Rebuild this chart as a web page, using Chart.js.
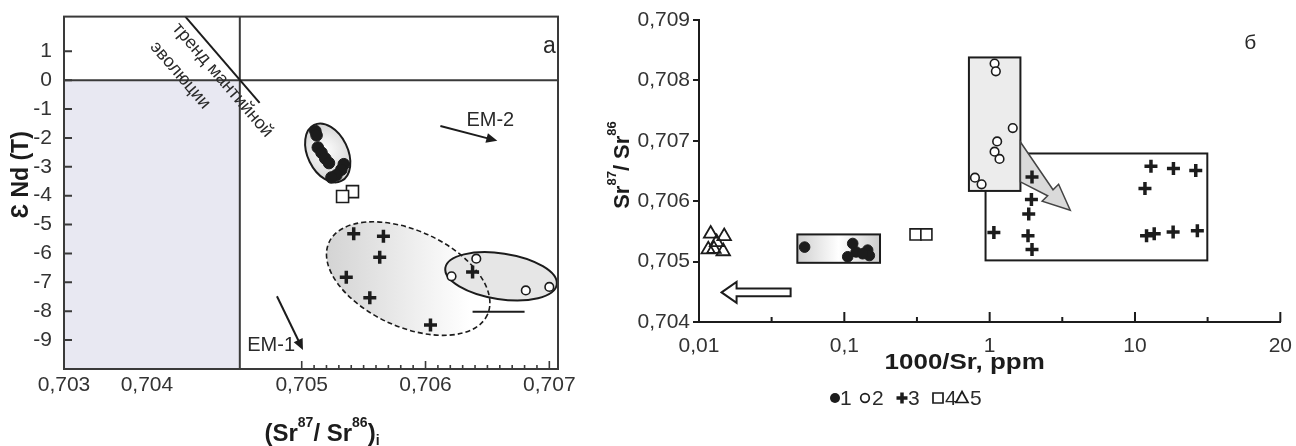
<!DOCTYPE html>
<html>
<head>
<meta charset="utf-8">
<script src="https://cdn.jsdelivr.net/npm/chart.js@4.4.1/dist/chart.umd.min.js"></script>
<style>
  html, body { margin: 0; padding: 0; background: #fff; overflow: hidden; }
  #wrapA { position: absolute; left: 0; top: 0; width: 600px; height: 446px; }
  #wrapB { position: absolute; left: 600px; top: 0; width: 696px; height: 446px; }
</style>
</head>
<body>
<div id="wrapA"><canvas id="chartA" width="600" height="446"></canvas></div>
<div id="wrapB"><canvas id="chartB" width="696" height="446"></canvas></div>
<script>
// ---- panel a: eNd(T) vs (87Sr/86Sr)i ----
const aDotX    = [0.70511, 0.70512, 0.70513, 0.70516, 0.70519, 0.70522, 0.70534, 0.70532, 0.70528, 0.70524];
const aDotY    = [-1.76, -1.91, -2.33, -2.51, -2.71, -2.87, -2.91, -3.10, -3.29, -3.37];
const aOpenX   = [0.70641, 0.70621, 0.70681, 0.70700];
const aOpenY   = [-6.18, -6.79, -7.28, -7.16];
const aCrossX  = [0.70542, 0.70566, 0.70563, 0.70536, 0.70555, 0.70604, 0.70638];
const aCrossY  = [-5.32, -5.40, -6.13, -6.82, -7.53, -8.48, -6.64];
const aSquareX = [0.70541, 0.70533];
const aSquareY = [-3.86, -4.03];

const aXTicks  = [0.70308, 0.70375, 0.705, 0.706, 0.707];
const aXLabels = ['0,703', '0,704', '0,705', '0,706', '0,707'];
const aYTicks  = [-9, -8, -7, -6, -5, -4, -3, -2, -1, 0, 1];

const bulkEarthSr = 0.7045;
const trendLine   = [[0.70406, 2.2], [0.70466, -0.79]];
const em1Arrow    = [[0.70480, -7.48], [0.70501, -9.34]];
const em2Arrow    = [[0.70612, -1.59], [0.70658, -2.10]];
const tieLine     = [[0.70638, -8.02], [0.70680, -8.02]];
// ellipse: centre x, centre y, end of long axis x, y, short/long ratio
const ellDots  = [0.70521, -2.52, 0.70532, -3.49, 0.645];
const ellCross = [0.70586, -6.87, 0.70650, -8.12, 0.553];
const ellOpen  = [0.70661, -6.79, 0.70706, -7.08, 0.406];

// ---- panel б: 87Sr/86Sr vs 1000/Sr ----
const bDotX    = [0.0533, 0.1142, 0.1205, 0.1055, 0.1447, 0.1486, 0.1337];
const bDotY    = [0.70524, 0.70530, 0.70516, 0.70508, 0.70519, 0.70510, 0.70513];
const bOpenX   = [1.081, 1.103, 1.442, 1.126, 1.081, 1.169, 0.792, 0.880];
const bOpenY   = [0.70828, 0.70815, 0.70721, 0.70699, 0.70682, 0.70670, 0.70639, 0.70628];
const bCrossX  = [1.956, 1.938, 1.857, 1.069, 1.836, 1.956, 12.88, 18.39, 26.19, 11.71, 12.01, 13.56, 18.30, 26.86];
const bCrossY  = [0.70640, 0.70603, 0.70579, 0.70548, 0.70543, 0.70520, 0.70658, 0.70654, 0.70651, 0.70621, 0.70543, 0.70546, 0.70549, 0.70551];
const bSquareX = [0.309, 0.367];
const bSquareY = [0.70545, 0.70545];
const bTriX    = [0.01203, 0.01491, 0.01267, 0.01468, 0.01158, 0.01322];
const bTriY    = [0.70546, 0.70542, 0.70521, 0.70517, 0.70520, 0.70532];

const bXTicks  = [0.01, 0.1, 1, 10, 100];
const bXLabels = ['0,01', '0,1', '1', '10', '20'];
const bXMinor  = [0.0316, 0.316, 3.16, 31.6];
const bYTicks  = [0.704, 0.705, 0.706, 0.707, 0.708, 0.709];
const bYLabels = ['0,704', '0,705', '0,706', '0,707', '0,708', '0,709'];

// boxes: x from, x to, y from, y to
const boxDots  = [0.0475, 0.176, 0.70498, 0.70545];
const boxOpen  = [0.720, 1.628, 0.70617, 0.70838];
const boxCross = [0.937, 31.45, 0.70502, 0.70679];
const grayArrow = [[1.628, 0.70698], [2.729, 0.70619], [2.981, 0.70628], [3.585, 0.70585],
                   [2.297, 0.70600], [2.506, 0.70609], [1.628, 0.70632]];
const backArrowX = [0.0427, 0.0143];
const backArrowY = 0.70449;

const legendLabels = ['1', '2', '3', '4', '5'];

const FAMILY = '"Liberation Sans", Arial, Helvetica, sans-serif';
const INK = '#1c1c1c';
Chart.defaults.font.family = FAMILY;
Chart.defaults.color = '#2a2a2a';

function pts(xs, ys) { return xs.map((v, i) => ({ x: v, y: ys[i] })); }

function drawRich(ctx, parts, cx, baseY, size) {
  const fontFor = k => 'bold ' + (k === 0 ? size : Math.round(size * 0.58)) + 'px ' + FAMILY;
  let w = 0;
  parts.forEach(([t, k]) => { ctx.font = fontFor(k); w += ctx.measureText(t).width; });
  let xx = cx - w / 2;
  ctx.textAlign = 'left';
  ctx.textBaseline = 'alphabetic';
  parts.forEach(([t, k]) => {
    ctx.font = fontFor(k);
    const dy = k === 1 ? -size * 0.6 : (k === -1 ? size * 0.17 : 0);
    ctx.fillText(t, xx, baseY + dy);
    xx += ctx.measureText(t).width;
  });
}

function arrowLine(ctx, x1, y1, x2, y2, head) {
  const ang = Math.atan2(y2 - y1, x2 - x1);
  ctx.beginPath();
  ctx.moveTo(x1, y1);
  ctx.lineTo(x2 - Math.cos(ang) * head * 0.8, y2 - Math.sin(ang) * head * 0.8);
  ctx.stroke();
  ctx.beginPath();
  ctx.moveTo(x2, y2);
  ctx.lineTo(x2 - head * Math.cos(ang) + head * 0.45 * Math.sin(ang), y2 - head * Math.sin(ang) - head * 0.45 * Math.cos(ang));
  ctx.lineTo(x2 - head * Math.cos(ang) - head * 0.45 * Math.sin(ang), y2 - head * Math.sin(ang) + head * 0.45 * Math.cos(ang));
  ctx.closePath();
  ctx.fill();
}

function ellipsePath(ctx, chart, e) {
  const { x, y } = chart.scales;
  const cx = x.getPixelForValue(e[0]), cy = y.getPixelForValue(e[1]);
  const ax = x.getPixelForValue(e[2]), ay = y.getPixelForValue(e[3]);
  const a = Math.hypot(ax - cx, ay - cy);
  ctx.beginPath();
  ctx.ellipse(cx, cy, a, a * e[4], Math.atan2(ay - cy, ax - cx), 0, Math.PI * 2);
  return { cx, cy, a };
}

const panelA = {
  id: 'panelA',
  beforeDatasetsDraw(chart) {
    const { ctx, chartArea: ca, scales: { x, y } } = chart;
    ctx.save();
    const xb = x.getPixelForValue(bulkEarthSr), y0 = y.getPixelForValue(0);
    ctx.fillStyle = '#e8e8f2';
    ctx.fillRect(ca.left, y0, xb - ca.left, ca.bottom - y0);

    ctx.strokeStyle = '#3a3a3a';
    ctx.lineWidth = 2;
    ctx.beginPath();
    ctx.moveTo(ca.left, y0); ctx.lineTo(ca.right, y0);
    ctx.moveTo(xb, ca.top); ctx.lineTo(xb, ca.bottom);
    ctx.stroke();

    // fields
    let g = ellipsePath(ctx, chart, ellCross);
    let grad = ctx.createLinearGradient(g.cx - g.a, 0, g.cx + g.a * 0.7, 0);
    grad.addColorStop(0, '#d2d2d2'); grad.addColorStop(1, '#ffffff');
    ctx.fillStyle = grad; ctx.fill();

    ellipsePath(ctx, chart, ellOpen);
    ctx.fillStyle = '#e6e6e6'; ctx.fill();

    g = ellipsePath(ctx, chart, ellDots);
    grad = ctx.createRadialGradient(g.cx - 4, g.cy - 4, 0, g.cx, g.cy, g.a);
    grad.addColorStop(0, '#ffffff'); grad.addColorStop(1, '#d0d0d0');
    ctx.fillStyle = grad; ctx.fill();

    ctx.strokeStyle = INK;
    ctx.lineWidth = 1.6;
    ctx.setLineDash([5, 3]);
    ellipsePath(ctx, chart, ellCross); ctx.stroke();
    ctx.setLineDash([]);
    ctx.lineWidth = 2;
    ellipsePath(ctx, chart, ellOpen); ctx.stroke();
    ellipsePath(ctx, chart, ellDots); ctx.stroke();
    ctx.restore();
  },
  afterDatasetsDraw(chart) {
    const { ctx, chartArea: ca, scales: { x, y } } = chart;
    const P = p => [x.getPixelForValue(p[0]), y.getPixelForValue(p[1])];
    ctx.save();
    ctx.strokeStyle = INK; ctx.fillStyle = INK; ctx.lineWidth = 2;

    // mantle evolution trend
    const t1 = P(trendLine[0]), t2 = P(trendLine[1]);
    ctx.beginPath(); ctx.moveTo(t1[0], t1[1]); ctx.lineTo(t2[0], t2[1]); ctx.stroke();
    const ang = Math.atan2(t2[1] - t1[1], t2[0] - t1[0]);
    ctx.font = '18px ' + FAMILY;
    ctx.textAlign = 'center'; ctx.textBaseline = 'middle';
    ctx.fillStyle = '#2a2a2a';
    [['тренд мантийной', 0.704361, 0.0], ['эволюции', 0.704019, 0.17]].forEach(([txt, vx, vy]) => {
      ctx.save();
      ctx.translate(x.getPixelForValue(vx), y.getPixelForValue(vy));
      ctx.rotate(ang);
      ctx.fillText(txt, 0, 0);
      ctx.restore();
    });

    // EM arrows
    ctx.fillStyle = INK;
    ctx.lineWidth = 2;
    let a1 = P(em1Arrow[0]), a2 = P(em1Arrow[1]);
    arrowLine(ctx, a1[0], a1[1], a2[0], a2[1], 11);
    a1 = P(em2Arrow[0]); a2 = P(em2Arrow[1]);
    arrowLine(ctx, a1[0], a1[1], a2[0], a2[1], 11);
    ctx.font = '20px ' + FAMILY;
    ctx.textAlign = 'left'; ctx.textBaseline = 'middle';
    ctx.fillStyle = '#2a2a2a';
    ctx.fillText('EM-1', x.getPixelForValue(0.70456), y.getPixelForValue(-9.17));
    ctx.fillText('EM-2', x.getPixelForValue(0.70633), y.getPixelForValue(-1.41));
    ctx.font = '23px ' + FAMILY;
    ctx.textAlign = 'center';
    ctx.fillText('a', x.getPixelForValue(0.70700), y.getPixelForValue(1.17));

    // tie segment
    const s1 = P(tieLine[0]), s2 = P(tieLine[1]);
    ctx.beginPath(); ctx.moveTo(s1[0], s1[1]); ctx.lineTo(s2[0], s2[1]); ctx.stroke();

    // frame and inward ticks
    ctx.strokeStyle = '#3a3a3a';
    ctx.lineWidth = 2;
    ctx.strokeRect(ca.left, ca.top, ca.right - ca.left, ca.bottom - ca.top);
    ctx.beginPath();
    aYTicks.forEach(v => {
      const py = y.getPixelForValue(v);
      ctx.moveTo(ca.left, py); ctx.lineTo(ca.left + 8, py);
    });
    ctx.stroke();
    ctx.lineWidth = 1.6;
    ctx.beginPath();
    for (let i = 0; i <= 20; i++) {
      const px = x.getPixelForValue(0.705 + i * 0.0001);
      ctx.moveTo(px, ca.bottom); ctx.lineTo(px, ca.bottom - (i % 10 === 0 ? 8 : 4));
    }
    ctx.stroke();

    // axis titles
    ctx.fillStyle = INK;
    drawRich(ctx, [['(Sr', 0], ['87', 1], ['/ Sr', 0], ['86', 1], [')', 0], ['i', -1]],
      (ca.left + ca.right) / 2 + 11, 441, 24);
    ctx.save();
    ctx.translate(22, (ca.top + ca.bottom) / 2 - 18);
    ctx.rotate(-Math.PI / 2);
    ctx.font = 'bold 23px ' + FAMILY;
    ctx.textAlign = 'center'; ctx.textBaseline = 'middle';
    ctx.fillText('Ɛ Nd (T)', 0, 0);
    ctx.restore();
    ctx.restore();
  }
};

function markerPath(ctx, kind, cx, cy) {
  ctx.beginPath();
  if (kind === 'dot' || kind === 'open') {
    ctx.arc(cx, cy, kind === 'dot' ? 5 : 4.3, 0, Math.PI * 2);
  } else if (kind === 'cross') {
    ctx.moveTo(cx - 5.5, cy); ctx.lineTo(cx + 5.5, cy);
    ctx.moveTo(cx, cy - 5.5); ctx.lineTo(cx, cy + 5.5);
  } else if (kind === 'rect') {
    ctx.rect(cx - 5, cy - 5, 10, 10);
  } else {
    ctx.moveTo(cx, cy - 6.5); ctx.lineTo(cx + 6, cy + 4.5); ctx.lineTo(cx - 6, cy + 4.5); ctx.closePath();
  }
}

const panelB = {
  id: 'panelB',
  beforeDatasetsDraw(chart) {
    const { ctx, scales: { x, y } } = chart;
    const R = b => {
      const l = x.getPixelForValue(b[0]), r = x.getPixelForValue(b[1]);
      const t = y.getPixelForValue(b[3]), bt = y.getPixelForValue(b[2]);
      return [l, t, r - l, bt - t];
    };
    ctx.save();
    ctx.strokeStyle = INK; ctx.lineWidth = 2;
    let r = R(boxCross);
    ctx.fillStyle = '#ffffff'; ctx.fillRect(...r); ctx.strokeRect(...r);
    r = R(boxOpen);
    ctx.fillStyle = '#ececec'; ctx.fillRect(...r); ctx.strokeRect(...r);
    r = R(boxDots);
    const grad = ctx.createLinearGradient(r[0], 0, r[0] + r[2], 0);
    grad.addColorStop(0, '#cfcfcf'); grad.addColorStop(0.5, '#ffffff'); grad.addColorStop(1, '#cdcdcd');
    ctx.fillStyle = grad; ctx.fillRect(...r); ctx.strokeRect(...r);

    // grey trend arrow
    ctx.beginPath();
    grayArrow.forEach((p, i) => {
      const px = x.getPixelForValue(p[0]), py = y.getPixelForValue(p[1]);
      if (i === 0) ctx.moveTo(px, py); else ctx.lineTo(px, py);
    });
    ctx.closePath();
    ctx.fillStyle = '#dadada'; ctx.fill();
    ctx.strokeStyle = '#444'; ctx.lineWidth = 1.5; ctx.stroke();

    // open arrow pointing to low 1000/Sr
    const tail = x.getPixelForValue(backArrowX[0]), tip = x.getPixelForValue(backArrowX[1]);
    const ay = y.getPixelForValue(backArrowY);
    ctx.beginPath();
    ctx.moveTo(tip, ay);
    ctx.lineTo(tip + 15, ay - 10.5);
    ctx.lineTo(tip + 15, ay - 3.8);
    ctx.lineTo(tail, ay - 3.8);
    ctx.lineTo(tail, ay + 3.8);
    ctx.lineTo(tip + 15, ay + 3.8);
    ctx.lineTo(tip + 15, ay + 10.5);
    ctx.closePath();
    ctx.fillStyle = '#fff'; ctx.fill();
    ctx.strokeStyle = INK; ctx.lineWidth = 2; ctx.stroke();
    ctx.restore();
  },
  afterDraw(chart) {
    const { ctx, chartArea: ca, scales: { x } } = chart;
    ctx.save();
    ctx.strokeStyle = INK; ctx.lineWidth = 2;
    ctx.beginPath();
    bXTicks.forEach(v => { const p = x.getPixelForValue(v); ctx.moveTo(p, ca.bottom); ctx.lineTo(p, ca.bottom - 10); });
    bXMinor.forEach(v => { const p = x.getPixelForValue(v); ctx.moveTo(p, ca.bottom); ctx.lineTo(p, ca.bottom - 5); });
    ctx.stroke();

    ctx.fillStyle = INK;
    ctx.save();
    ctx.translate((ca.left + ca.right) / 2 - 25, 369);
    ctx.scale(1.18, 1);
    ctx.font = 'bold 22px ' + FAMILY;
    ctx.textAlign = 'center'; ctx.textBaseline = 'alphabetic';
    ctx.fillText('1000/Sr, ppm', 0, 0);
    ctx.restore();

    ctx.save();
    ctx.translate(21, 165);
    ctx.rotate(-Math.PI / 2);
    drawRich(ctx, [['Sr', 0], ['87', 1], ['/ Sr', 0], ['86', 1]], 0, 8, 22);
    ctx.restore();

    ctx.font = '21px ' + FAMILY;
    ctx.fillStyle = '#2a2a2a';
    ctx.textAlign = 'center'; ctx.textBaseline = 'middle';
    ctx.fillText('б', ca.right - 30, 43);

    // shared legend: marker left offsets and label offsets from the legend start
    const kinds = ['dot', 'open', 'cross', 'rect', 'tri'];
    const markerAt = [0, 30, 67, 103, 127];
    const labelAt = [10, 42, 78, 115, 140];
    const lx = ca.left + 131;
    const ly = 398;
    ctx.font = '21px ' + FAMILY;
    ctx.textAlign = 'left';
    kinds.forEach((k, i) => {
      markerPath(ctx, k, lx + markerAt[i] + 5, ly);
      ctx.strokeStyle = INK; ctx.fillStyle = INK;
      if (k === 'dot') ctx.fill();
      else { ctx.lineWidth = k === 'cross' ? 3.5 : 1.7; ctx.stroke(); }
      ctx.fillStyle = '#2a2a2a';
      ctx.fillText(legendLabels[i], lx + labelAt[i], ly + 1);
    });
    ctx.restore();
  }
};

const dotStyle   = { pointStyle: 'circle', pointRadius: 5.8, backgroundColor: INK, borderColor: INK, borderWidth: 1 };
const openStyle  = { pointStyle: 'circle', pointRadius: 4.3, backgroundColor: '#fff', borderColor: INK, borderWidth: 1.6 };
const crossStyle = { pointStyle: 'cross', pointRadius: 6.5, borderColor: INK, borderWidth: 3.5 };
const rectStyle  = { pointStyle: 'rect', pointRadius: 8.5, backgroundColor: '#fff', borderColor: INK, borderWidth: 1.6 };
const triStyle   = { pointStyle: 'triangle', pointRadius: 7.8, backgroundColor: 'rgba(0,0,0,0)', borderColor: INK, borderWidth: 1.8 };

new Chart(document.getElementById('chartA'), {
  type: 'scatter',
  data: {
    datasets: [
      { label: '1', data: pts(aDotX, aDotY), ...dotStyle },
      { label: '2', data: pts(aOpenX, aOpenY), ...openStyle },
      { label: '3', data: pts(aCrossX, aCrossY), ...crossStyle },
      { label: '4', data: pts(aSquareX, aSquareY), ...rectStyle }
    ]
  },
  plugins: [panelA],
  options: {
    responsive: false,
    animation: false,
    layout: { padding: { top: 16, right: 42, left: 0, bottom: 0 } },
    plugins: { legend: { display: false }, tooltip: { enabled: false } },
    scales: {
      x: {
        type: 'linear', min: 0.70308, max: 0.70707,
        grid: { display: false }, border: { display: false },
        afterBuildTicks: s => { s.ticks = aXTicks.map(v => ({ value: v })); },
        afterFit: s => { s.height = 77; },
        ticks: { autoSkip: false, maxRotation: 0, padding: -4, font: { size: 21 }, color: '#333',
                 callback: (v, i) => aXLabels[i] }
      },
      y: {
        type: 'linear', min: -10, max: 2.2,
        grid: { display: false }, border: { display: false },
        afterBuildTicks: s => { s.ticks = aYTicks.map(v => ({ value: v })); },
        afterFit: s => { s.width = 64; },
        ticks: { autoSkip: false, padding: 4, font: { size: 21 }, color: '#333',
                 callback: v => String(v) }
      }
    }
  }
});

new Chart(document.getElementById('chartB'), {
  type: 'scatter',
  data: {
    datasets: [
      { label: '5', data: pts(bTriX, bTriY), ...triStyle },
      { label: '1', data: pts(bDotX, bDotY), ...dotStyle, pointRadius: 5.3 },
      { label: '2', data: pts(bOpenX, bOpenY), ...openStyle },
      { label: '3', data: pts(bCrossX, bCrossY), ...crossStyle },
      { label: '4', data: pts(bSquareX, bSquareY), ...rectStyle, pointRadius: 7.8 }
    ]
  },
  plugins: [panelB],
  options: {
    responsive: false,
    animation: false,
    layout: { padding: { top: 20, right: 13, left: 0, bottom: 0 } },
    plugins: { legend: { display: false }, tooltip: { enabled: false } },
    scales: {
      x: {
        type: 'logarithmic', min: 0.01, max: 100,
        grid: { display: false },
        border: { display: true, color: INK, width: 2 },
        afterBuildTicks: s => { s.ticks = bXTicks.map(v => ({ value: v })); },
        afterFit: s => { s.height = 124; },
        ticks: { autoSkip: false, maxRotation: 0, padding: 4, font: { size: 21 }, color: '#333',
                 callback: (v, i) => bXLabels[i] }
      },
      y: {
        type: 'linear', min: 0.704, max: 0.709,
        grid: { drawOnChartArea: false, tickLength: 6, color: INK, lineWidth: 2 },
        border: { display: true, color: INK, width: 2 },
        afterBuildTicks: s => { s.ticks = bYTicks.map(v => ({ value: v })); },
        afterFit: s => { s.width = 99; },
        ticks: { autoSkip: false, padding: 3, font: { size: 21 }, color: '#333',
                 callback: (v, i) => bYLabels[i] }
      }
    }
  }
});
</script>
</body>
</html>
